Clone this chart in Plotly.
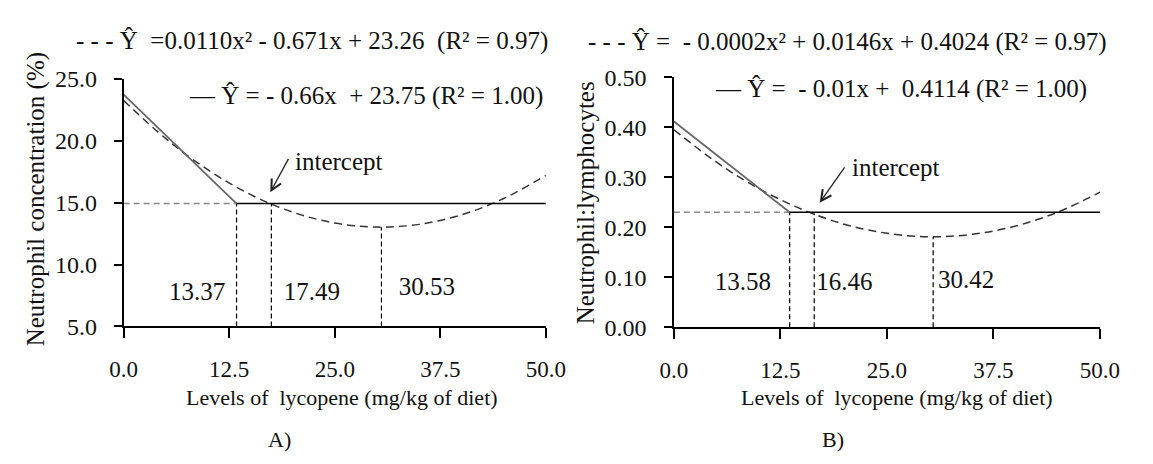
import plotly.graph_objects as go

# ---------------- data ----------------
lyc_levels = [0, 5, 10, 15, 20, 25, 30, 35, 40, 45, 50]
tick_vals_x = [0, 12.5, 25, 37.5, 50]
tick_text_x = ["0.0", "12.5", "25.0", "37.5", "50.0"]

# Panel A – neutrophil concentration (%)
a_quad = [23.26, 20.18, 17.65, 15.67, 14.24, 13.36, 13.03, 13.25, 14.02, 15.34, 17.21]
a_lin_x = [0, 13.37]
a_lin_y = [23.75, 14.93]
a_plat_x = [13.37, 50]
a_plat_y = [14.93, 14.93]
a_marks = [13.37, 17.49, 30.53]
a_mark_tops = [14.93, 14.95, 13.02]
a_mark_labels = ["13.37", "17.49", "30.53"]
a_label_x = [8.7, 22.3, 35.9]
a_label_y = [7.67, 7.67, 8.05]
a_ticks_y = [5, 10, 15, 20, 25]

# Panel B – neutrophil:lymphocytes
b_quad = [0.395, 0.330, 0.277, 0.236, 0.206, 0.188, 0.181, 0.186, 0.202, 0.230, 0.270]
b_lin_x = [0, 13.58]
b_lin_y = [0.4114, 0.23]
b_plat_x = [13.58, 50]
b_plat_y = [0.23, 0.23]
b_marks = [13.58, 16.46, 30.42]
b_mark_tops = [0.23, 0.228, 0.181]
b_mark_labels = ["13.58", "16.46", "30.42"]
b_label_x = [8.1, 20.0, 34.3]
b_label_y = [0.087, 0.087, 0.091]
b_ticks_y = [0, 0.1, 0.2, 0.3, 0.4, 0.5]

eq_a1 = "- - - Ŷ\u00a0 =0.0110x² - 0.671x + 23.26\u00a0 (R² = 0.97)"
eq_a2 = "— Ŷ = - 0.66x\u00a0 + 23.75 (R² = 1.00)"
eq_b1 = "- - - Ŷ =\u00a0 - 0.0002x² + 0.0146x + 0.4024 (R² = 0.97)"
eq_b2 = "— Ŷ =\u00a0 - 0.01x +\u00a0 0.4114 (R² = 1.00)"
x_title = "Levels of\u00a0 lycopene (mg/kg of diet)"
ya_title = "Neutrophil concentration (%)"
yb_title = "Neutrophil:lymphocytes"

# ---------------- figure ----------------
W, H = 1153, 464
FONT = "Liberation Serif"
TXT = "#111111"
FS_XTICK = 23
FS_YTICK = 24
FS_TEXT = 25
FS_TITLE = 22
fig = go.Figure()


def add_panel(xa, ya, quad, lx, ly, px, py, marks, tops, base, labels, lab_x, lab_y):
    fig.add_trace(go.Scatter(x=lyc_levels, y=quad, mode="lines", xaxis=xa, yaxis=ya,
                             line=dict(color="#333333", width=1.5, dash="8px,5px", shape="spline"),
                             showlegend=False, hoverinfo="skip"))
    fig.add_trace(go.Scatter(x=lx, y=ly, mode="lines", xaxis=xa, yaxis=ya,
                             line=dict(color="#666666", width=1.8),
                             showlegend=False, hoverinfo="skip"))
    fig.add_trace(go.Scatter(x=px, y=py, mode="lines", xaxis=xa, yaxis=ya,
                             line=dict(color="#000000", width=1.5),
                             showlegend=False, hoverinfo="skip"))
    fig.add_trace(go.Scatter(x=[0, px[0]], y=[py[0], py[0]], mode="lines", xaxis=xa, yaxis=ya,
                             line=dict(color="#888888", width=1.5, dash="6px,4px"),
                             showlegend=False, hoverinfo="skip"))
    for m, t in zip(marks, tops):
        fig.add_trace(go.Scatter(x=[m, m], y=[base, t], mode="lines", xaxis=xa, yaxis=ya,
                                 line=dict(color="#000000", width=1.2, dash="5px,3px"),
                                 showlegend=False, hoverinfo="skip"))
    fig.add_trace(go.Scatter(x=lab_x, y=lab_y, mode="text", text=labels, xaxis=xa, yaxis=ya,
                             textfont=dict(family=FONT, size=FS_TEXT, color=TXT),
                             showlegend=False, hoverinfo="skip"))


add_panel("x", "y", a_quad, a_lin_x, a_lin_y, a_plat_x, a_plat_y,
          a_marks, a_mark_tops, 5, a_mark_labels, a_label_x, a_label_y)
add_panel("x2", "y2", b_quad, b_lin_x, b_lin_y, b_plat_x, b_plat_y,
          b_marks, b_mark_tops, 0, b_mark_labels, b_label_x, b_label_y)

axis_common = dict(showline=True, linecolor="#000000", linewidth=1.5, showgrid=False,
                   zeroline=False, ticks="outside", tickcolor="#000000", tickwidth=1.5,
                   fixedrange=True)
xfont = dict(family=FONT, size=FS_XTICK, color=TXT)
yfont = dict(family=FONT, size=FS_YTICK, color=TXT)

fig.update_layout(
    width=W, height=H, margin=dict(l=0, r=0, t=0, b=0),
    paper_bgcolor="white", plot_bgcolor="white",
    xaxis=dict(domain=[113 / W, 548 / W], range=[0, 50], anchor="y",
               tickvals=tick_vals_x, ticktext=tick_text_x, ticklen=10,
               ticklabelstandoff=11, tickfont=xfont, **axis_common),
    yaxis=dict(domain=[1 - 332 / H, 1 - 70 / H], range=[5, 25], anchor="x",
               tickvals=a_ticks_y, tickformat=".1f", ticklen=8,
               ticklabelstandoff=12, tickfont=yfont, **axis_common),
    xaxis2=dict(domain=[680 / W, 1119 / W], range=[0, 50], anchor="y2",
                tickvals=tick_vals_x, ticktext=tick_text_x, ticklen=10,
                ticklabelstandoff=11, tickfont=xfont, **axis_common),
    yaxis2=dict(domain=[1 - 333 / H, 1 - 68 / H], range=[0, 0.5], anchor="x2",
                tickvals=b_ticks_y, tickformat=".2f", ticklen=8,
                ticklabelstandoff=13, tickfont=yfont, **axis_common),
)

ann_font = dict(family=FONT, size=FS_TEXT, color=TXT)
title_font = dict(family=FONT, size=FS_TITLE, color=TXT)
anns = [
    dict(text=eq_a1, x=307 / W, y=1 - 30 / H, xref="paper", yref="paper", showarrow=False,
         xanchor="center", yanchor="middle", font=ann_font),
    dict(text=eq_a2, x=363 / W, y=1 - 88 / H, xref="paper", yref="paper", showarrow=False,
         xanchor="center", yanchor="middle", font=ann_font),
    dict(text=eq_b1, x=859 / W, y=1 - 31 / H, xref="paper", yref="paper", showarrow=False,
         xanchor="center", yanchor="middle", font=ann_font),
    dict(text=eq_b2, x=914 / W, y=1 - 81 / H, xref="paper", yref="paper", showarrow=False,
         xanchor="center", yanchor="middle", font=ann_font),
    dict(text=x_title, x=338 / W, y=1 - 407 / H, xref="paper", yref="paper", showarrow=False,
         xanchor="center", yanchor="middle", font=title_font),
    dict(text=x_title, x=910 / W, y=1 - 407 / H, xref="paper", yref="paper", showarrow=False,
         xanchor="center", yanchor="middle", font=title_font),
    dict(text=ya_title, x=23 / W, y=1 - 197 / H, xref="paper", yref="paper", showarrow=False,
         textangle=-90, xanchor="center", yanchor="middle", font=ann_font),
    dict(text=yb_title, x=589 / W, y=1 - 201 / H, xref="paper", yref="paper", showarrow=False,
         textangle=-90, xanchor="center", yanchor="middle", font=ann_font),
    dict(text="A)", x=274 / W, y=1 - 452 / H, xref="paper", yref="paper", showarrow=False,
         xanchor="center", yanchor="middle", font=title_font),
    dict(text="B)", x=844 / W, y=1 - 452 / H, xref="paper", yref="paper", showarrow=False,
         xanchor="center", yanchor="middle", font=title_font),
    dict(text="intercept", x=25.5, y=18.36, xref="x", yref="y", showarrow=False,
         xanchor="center", yanchor="middle", font=ann_font),
    dict(text="", x=17.36, y=15.84, xref="x", yref="y", showarrow=True, ax=19, ay=-35,
         arrowhead=5, arrowsize=1.6, arrowwidth=1.3, arrowcolor="#222222"),
    dict(text="intercept", x=26.1, y=0.319, xref="x2", yref="y2", showarrow=False,
         xanchor="center", yanchor="middle", font=ann_font),
    dict(text="", x=17.1, y=0.249, xref="x2", yref="y2", showarrow=True, ax=26, ay=-37,
         arrowhead=5, arrowsize=1.6, arrowwidth=1.3, arrowcolor="#222222"),
]
fig.update_layout(annotations=anns)

fig.write_html("out.html")
